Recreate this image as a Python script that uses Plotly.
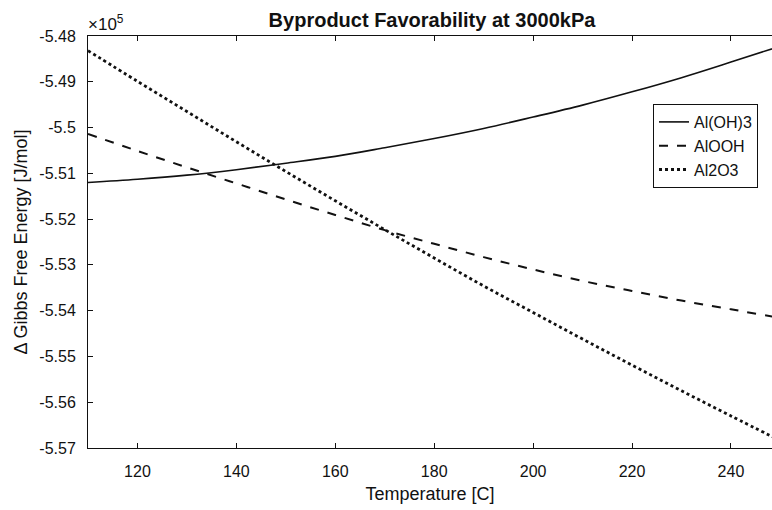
import plotly.graph_objects as go

temperature = [110, 120, 130, 140, 150, 160, 170, 180, 190, 200, 210, 220, 230, 240, 250]
al_oh3 = [-5.5120, -5.5113, -5.5104, -5.5092, -5.5078, -5.5063, -5.5044, -5.5024,
          -5.5002, -5.4977, -5.4951, -5.4922, -5.4891, -5.4857, -5.4822]
alooh = [-5.5014, -5.5051, -5.5087, -5.5122, -5.5157, -5.5191, -5.5224, -5.5254,
         -5.5283, -5.5310, -5.5335, -5.5357, -5.5378, -5.5397, -5.5416]
al2o3 = [-5.4832, -5.4899, -5.4965, -5.5031, -5.5096, -5.5160, -5.5223, -5.5285,
         -5.5346, -5.5404, -5.5462, -5.5519, -5.5575, -5.5630, -5.5684]

x_ticks = [120, 140, 160, 180, 200, 220, 240]
y_ticks = [-5.48, -5.49, -5.50, -5.51, -5.52, -5.53, -5.54, -5.55, -5.56, -5.57]
y_ticktext = ["-5.48", "-5.49", "-5.5", "-5.51", "-5.52", "-5.53", "-5.54", "-5.55", "-5.56", "-5.57"]

font = "Liberation Sans, Arial, sans-serif"
ink = "#111111"

fig = go.Figure()
fig.add_trace(go.Scatter(x=temperature, y=al_oh3, mode="lines", name="Al(OH)3",
                         line=dict(color=ink, width=1.6, dash="solid"), line_shape="spline"))
fig.add_trace(go.Scatter(x=temperature, y=alooh, mode="lines", name="AlOOH",
                         line=dict(color=ink, width=2, dash="dash"), line_shape="spline"))
fig.add_trace(go.Scatter(x=temperature, y=al2o3, mode="lines", name="Al2O3",
                         line=dict(color=ink, width=2.8, dash="dot"), line_shape="spline"))

fig.update_layout(
    width=772, height=510,
    margin=dict(l=88, r=0, t=36, b=62),
    paper_bgcolor="white", plot_bgcolor="white",
    font=dict(family=font, size=16, color=ink),
    title=dict(text="<b>Byproduct Favorability at 3000kPa</b>", x=432 / 772, xanchor="center",
               y=1 - 20 / 510, yanchor="middle", font=dict(size=20, family=font, color=ink)),
    showlegend=True,
    legend=dict(x=(653 - 88) / 684, y=(448 - 104) / 412, xanchor="left", yanchor="top",
                bordercolor=ink, borderwidth=1, bgcolor="white",
                font=dict(size=16, family=font), tracegroupgap=0,
                itemwidth=30),
)
fig.update_xaxes(
    range=[110, 248.3], tickvals=x_ticks, ticks="inside", ticklen=5, tickcolor=ink,
    showline=True, linecolor=ink, linewidth=1, mirror="ticks",
    showgrid=False, zeroline=False,
    title=dict(text="Temperature [C]", font=dict(size=18, family=font), standoff=8),
    tickfont=dict(size=16, family=font), ticklabelstandoff=9,
)
fig.update_yaxes(
    range=[-5.57, -5.48], tickvals=y_ticks, ticktext=y_ticktext, ticks="inside", ticklen=5,
    tickcolor=ink, showline=True, linecolor=ink, linewidth=1, mirror=False,
    showgrid=False, zeroline=False,
    title=dict(text="Δ Gibbs Free Energy [J/mol]", font=dict(size=18, family=font), standoff=7),
    tickfont=dict(size=16, family=font), ticklabelstandoff=8,
)
fig.add_annotation(text="×10<sup>5</sup>", xref="paper", yref="paper", x=0, y=1,
                   xanchor="left", yanchor="bottom", showarrow=False, yshift=0, xshift=-2,
                   font=dict(size=17, family=font, color=ink))

fig.write_html("out.html")
